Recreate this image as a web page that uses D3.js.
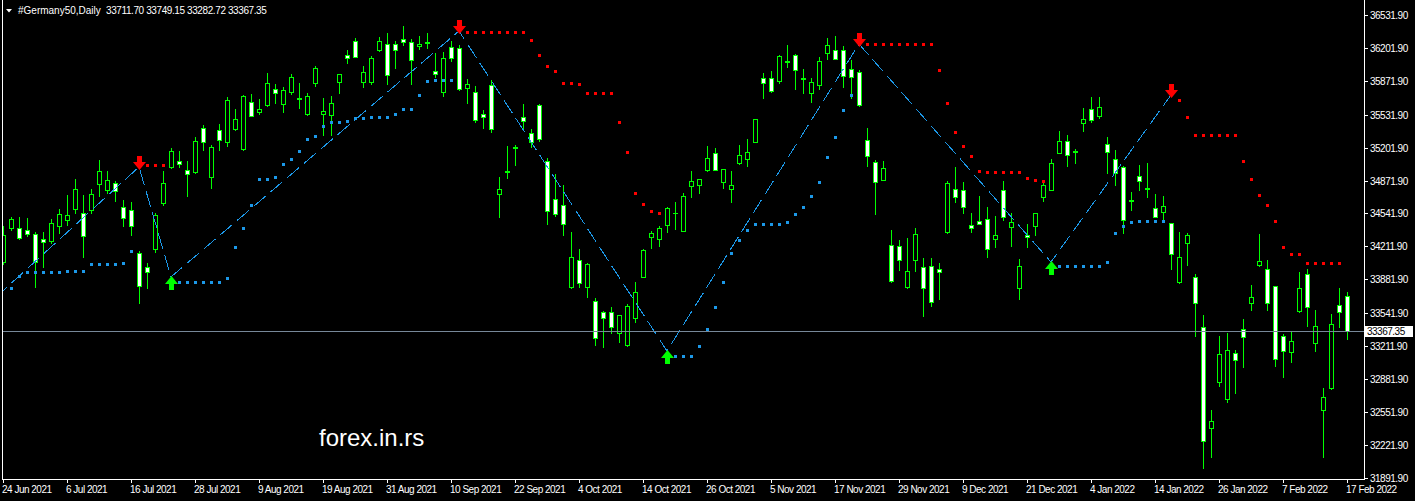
<!DOCTYPE html>
<html><head><meta charset="utf-8">
<script src="https://cdn.jsdelivr.net/npm/d3@7"></script>
<style>
html,body{margin:0;padding:0;background:#000;overflow:hidden;}
svg{display:block;}
text{font-family:"Liberation Sans",Arial,sans-serif;}
</style></head><body>
<svg id="c" width="1415" height="501"></svg>
<script>
// ---------- DATA ----------
const symbol = "#Germany50,Daily";
const lastOHLC = ["33711.70","33749.15","33282.72","33367.35"];
const lastPrice = 33367.35;

const dates = [
"2021-06-24","2021-06-25","2021-06-28","2021-06-29","2021-06-30",
"2021-07-01","2021-07-02","2021-07-05","2021-07-06","2021-07-07","2021-07-08","2021-07-09","2021-07-12","2021-07-13","2021-07-14","2021-07-15","2021-07-16","2021-07-19","2021-07-20","2021-07-21","2021-07-22","2021-07-23","2021-07-26","2021-07-27","2021-07-28","2021-07-29","2021-07-30",
"2021-08-02","2021-08-03","2021-08-04","2021-08-05","2021-08-06","2021-08-09","2021-08-10","2021-08-11","2021-08-12","2021-08-13","2021-08-16","2021-08-17","2021-08-18","2021-08-19","2021-08-20","2021-08-23","2021-08-24","2021-08-25","2021-08-26","2021-08-27","2021-08-30","2021-08-31",
"2021-09-01","2021-09-02","2021-09-03","2021-09-06","2021-09-07","2021-09-08","2021-09-09","2021-09-10","2021-09-13","2021-09-14","2021-09-15","2021-09-16","2021-09-17","2021-09-20","2021-09-21","2021-09-22","2021-09-23","2021-09-24","2021-09-27","2021-09-28","2021-09-29","2021-09-30",
"2021-10-01","2021-10-04","2021-10-05","2021-10-06","2021-10-07","2021-10-08","2021-10-11","2021-10-12","2021-10-13","2021-10-14","2021-10-15","2021-10-18","2021-10-19","2021-10-20","2021-10-21","2021-10-22","2021-10-25","2021-10-26","2021-10-27","2021-10-28","2021-10-29",
"2021-11-01","2021-11-02","2021-11-03","2021-11-04","2021-11-05","2021-11-08","2021-11-09","2021-11-10","2021-11-11","2021-11-12","2021-11-15","2021-11-16","2021-11-17","2021-11-18","2021-11-19","2021-11-22","2021-11-23","2021-11-24","2021-11-25","2021-11-26","2021-11-29","2021-11-30",
"2021-12-01","2021-12-02","2021-12-03","2021-12-06","2021-12-07","2021-12-08","2021-12-09","2021-12-10","2021-12-13","2021-12-14","2021-12-15","2021-12-16","2021-12-17","2021-12-20","2021-12-21","2021-12-22","2021-12-23","2021-12-27","2021-12-28","2021-12-29","2021-12-30",
"2022-01-03","2022-01-04","2022-01-05","2022-01-06","2022-01-07","2022-01-10","2022-01-11","2022-01-12","2022-01-13","2022-01-14","2022-01-17","2022-01-18","2022-01-19","2022-01-20","2022-01-21","2022-01-24","2022-01-25","2022-01-26","2022-01-27","2022-01-28","2022-01-31",
"2022-02-01","2022-02-02","2022-02-03","2022-02-04","2022-02-07","2022-02-08","2022-02-09","2022-02-10","2022-02-11","2022-02-14","2022-02-15","2022-02-16","2022-02-17"];

const opens = [
34058,34399,34393,34373,34333,34283,34269,34419,34476,34590,
34543,34573,34840,34780,34844,34604,34573,34142,34002,34182,
34650,35011,35068,34978,34961,35399,34910,35379,35258,35392,
35191,35656,35562,35629,35787,35642,35763,35685,35542,35853,
35542,35532,35863,36131,36268,35857,35863,36184,36238,36238,
36288,36258,36224,36253,35967,35763,36208,36198,35797,35757,
35536,35827,34734,34958,35203,35506,35346,35626,35065,34684,
34624,33801,34072,33807,33661,33551,33551,33340,33226,33490,
33908,34303,34289,34429,34543,34369,34814,34824,34981,35145,
34860,34784,35051,35085,35261,35897,35897,35873,36065,36128,
35890,35753,35833,36154,36178,36178,35987,35960,35278,35058,
34880,34222,34212,33807,34072,34002,34012,33982,34359,34784,
34774,34423,34463,34483,34283,34774,34403,33791,34323,34419,
34710,34780,35151,35265,35158,35452,35586,35522,35235,35085,
35011,34667,34914,34791,34594,34553,34443,33851,34249,33902,
33400,32387,32849,32678,33145,33380,33641,34022,33982,33811,
33310,33149,33561,33932,33240,32568,32789,33621,33711.70];
const highs = [
34416,34506,34509,34493,34359,34356,34483,34583,34727,34887,
34727,34784,35078,34968,34867,34677,34660,34165,34048,34546,
34968,35198,35165,35068,35309,35429,35228,35439,35710,35589,
35727,35740,35690,35953,35840,35813,35940,35850,35750,36021,
35700,35720,35945,36181,36298,36021,36121,36308,36348,36268,
36422,36288,36321,36348,36148,36161,36274,36231,35887,35820,
35579,35880,34904,35218,35225,35639,35389,35639,35098,34937,
34827,34356,34185,34042,33691,33567,33601,33523,33634,33854,
34182,34369,34416,34610,34657,34744,34968,34887,35218,35198,
34987,34968,35228,35288,35489,35947,35970,36134,36231,36141,
35990,35897,36108,36298,36321,36221,36081,35980,35402,35078,
35068,34376,34279,34296,34396,34095,34095,34045,34867,35011,
34857,34543,34717,34607,34516,34867,34546,34085,34436,34546,
34877,35088,35369,35329,35188,35599,35707,35707,35309,35178,
35014,34757,35028,35048,34737,34717,34449,34356,34343,33932,
33520,32571,33313,33340,33173,33483,33824,34336,34076,33814,
33333,33366,33955,33982,33574,32792,33534,33791,33749.15];
const lows = [
34035,34376,34283,34316,33807,34008,34243,34349,34426,34543,
34108,34549,34717,34744,34667,34416,34329,33647,33791,34158,
34627,34995,35011,34720,34944,35178,34800,35178,35218,35379,
35178,35519,35539,35619,35652,35559,35740,35599,35529,35823,
35326,35326,35753,36054,36106,35813,35837,36171,35837,36003,
36231,35843,36188,36198,35913,35720,36074,35780,35652,35462,
35396,35362,34509,34900,35028,35396,35211,35271,34436,34516,
34326,33794,33807,33707,33223,33206,33346,33256,33213,33456,
33905,34198,34215,34359,34383,34366,34710,34750,34971,34975,
34794,34660,35038,35021,35258,35703,35763,35847,36013,35793,
35753,35662,35790,36091,36090,35813,35697,35622,35021,34536,
34877,33858,33975,33797,33968,33516,33614,33687,34343,34660,
34549,34359,34436,34108,34208,34473,34218,33687,34208,34329,
34670,34777,35148,35021,35051,35372,35462,35502,34951,34824,
34349,34577,34777,34704,34503,34459,33988,33848,34028,33316,
31986,32102,32815,32654,32744,32999,33574,34019,33574,33015,
32905,33055,33558,33416,33166,32102,32786,33400,33282.72];
const closes = [
34325,34483,34293,34333,34058,34253,34443,34533,34523,34784,
34319,34734,34968,34874,34770,34499,34419,33817,33952,34526,
34844,35165,35038,34934,35268,35258,35208,35278,35680,35486,
35717,35522,35589,35850,35753,35777,35910,35695,35717,35997,
35566,35649,35940,36104,36108,35957,36098,36268,35927,36178,
36264,36078,36241,36263,35943,36098,36098,35787,35837,35476,
35512,35386,34784,34964,35211,35466,35261,35285,34563,34536,
34433,34102,33841,34032,33290,33490,33406,33520,33614,33751,
34175,34343,34393,34594,34549,34714,34864,34884,35095,34981,
34985,34827,35125,35155,35486,35853,35773,36121,36071,35983,
35896,35857,36071,36228,36094,35923,35913,35629,35115,34854,
34998,33861,34072,33962,34333,33791,33651,33958,34844,34704,
34604,34393,34439,34182,34323,34503,34453,34012,34303,34543,
34824,35045,35265,35125,35164,35486,35476,35606,35155,34944,
34476,34673,34864,34797,34509,34617,34135,34102,34323,33641,
32257,32458,33129,33170,33072,33300,33701,34062,33641,33079,
33163,33260,33791,33601,33410,32698,33430,33551,33367.35];

// trailing stop dots (blue = support in up-swing, red = resistance in down-swing)
const supportDots = [
null,33794,33912,33952,33952,33952,33952,33952,33962,33962,
33962,34032,34032,34032,34032,34042,34162,null,null,null,
null,null,33851,33851,33851,33851,33851,33851,33892,34202,
34396,34626,34884,34884,34907,35035,35085,35165,35285,35316,
35416,35456,35456,35466,35496,35496,35506,35506,35506,35536,
35586,35586,35727,35867,35877,35877,35877,null,null,null,
null,null,null,null,null,null,null,null,null,null,
null,null,null,null,null,null,null,null,null,null,
null,null,null,null,33109,33109,33109,33210,33380,33601,
33851,34142,34273,34373,34433,34433,34433,34433,34453,34533,
34604,34714,34854,35105,35306,35576,35727,null,null,null,
null,null,null,null,null,null,null,null,null,null,
null,null,null,null,null,null,null,null,null,null,
null,null,34012,34012,34012,34012,34012,34012,34052,34343,
34413,34453,34463,34463,34463,34463,null,null,null,null,
null,null,null,null,null,null,null,null,null,null,
null,null,null,null,null,null,null,null,null];
const resistanceDots = [
null,null,null,null,null,null,null,null,null,null,
null,null,null,null,null,null,null,null,35025,35025,
35025,null,null,null,null,null,null,null,null,null,
null,null,null,null,null,null,null,null,null,null,
null,null,null,null,null,null,null,null,null,null,
null,null,null,null,null,null,null,null,36358,36358,
36358,36358,36358,36358,36358,36358,36278,36128,36017,35967,
35847,35847,35837,35747,35747,35747,35747,35456,35155,34744,
34634,34563,34543,null,null,null,null,null,null,null,
null,null,null,null,null,null,null,null,null,null,
null,null,null,null,null,null,null,null,36238,36238,
36238,36238,36238,36238,36238,36238,36238,35977,35646,35356,
35215,35115,34965,34955,34955,34955,34955,34955,34894,34874,
34864,null,null,null,null,null,null,null,null,null,
null,null,null,null,null,null,null,35677,35506,35326,
35326,35326,35326,35326,35326,35065,34884,34724,34624,34463,
34202,34132,34132,34042,34042,34042,34042,34042,null];

// zigzag swing points (bar index, price)
const zigzagBars   = [-1, 17, 21, 57, 83, 107, 131, 146];
const zigzagPrices = [33694, 35008, 33905, 36371, 33163, 36241, 34055, 35730];

const yTickLabels = ["36531.90","36201.90","35871.90","35531.90","35201.90","34871.90","34541.90",
  "34211.90","33881.90","33541.90","33211.90","32881.90","32551.90","32221.90","31891.90"];
const xTickLabels = ["24 Jun 2021","6 Jul 2021","16 Jul 2021","28 Jul 2021","9 Aug 2021","19 Aug 2021",
  "31 Aug 2021","10 Sep 2021","22 Sep 2021","4 Oct 2021","14 Oct 2021","26 Oct 2021","5 Nov 2021",
  "17 Nov 2021","29 Nov 2021","9 Dec 2021","21 Dec 2021","4 Jan 2022","14 Jan 2022","26 Jan 2022",
  "7 Feb 2022","17 Feb 2022"];
const watermark = "forex.in.rs";

// ---------- CHART ----------
const W = 1415, H = 501;
const plotLeft = 2, plotRight = 1364, plotBottom = 479;
const svg = d3.select("#c");
svg.append("rect").attr("width",W).attr("height",H).attr("fill","#000");

const x = d3.scaleLinear().domain([0, dates.length - 1]).range([3, 1347]);
const y = d3.scaleLinear().domain([31891.9, 36531.9]).range([477.7, 15]);
const X = i => Math.round(x(i));
const Y = v => Math.round(y(v));

const bars = dates.map((d,i)=>({i, o:opens[i], h:highs[i], l:lows[i], c:closes[i]}));

svg.append("clipPath").attr("id","plotclip").append("rect")
  .attr("x",plotLeft+1).attr("y",0).attr("width",plotRight-plotLeft-1).attr("height",plotBottom);

const plot = svg.append("g").attr("clip-path","url(#plotclip)").attr("shape-rendering","crispEdges");
const LIME = "#00ff00";
const BLUE = "#1c98e8";

// candles
const cg = plot.append("g");
bars.forEach(b=>{
  const cx = X(b.i);
  const hy = Y(b.h), ly = Y(b.l);
  cg.append("rect").attr("x",cx).attr("y",hy).attr("width",1).attr("height",Math.max(1,ly-hy+1)).attr("fill",LIME);
  const top = Y(Math.max(b.o,b.c)), bot = Y(Math.min(b.o,b.c));
  if (bot - top < 1) {
    cg.append("rect").attr("x",cx-2).attr("y",top).attr("width",5).attr("height",1).attr("fill",LIME);
  } else {
    cg.append("rect").attr("x",cx-2).attr("y",top).attr("width",5).attr("height",bot-top+1).attr("fill",LIME);
    if (bot - top > 1)
      cg.append("rect").attr("x",cx-1).attr("y",top+1).attr("width",3).attr("height",bot-top-1)
        .attr("fill", b.c < b.o ? "#ffffff" : "#000000");
  }
});

// current price line
svg.append("line").attr("x1",plotLeft+1).attr("x2",plotRight).attr("y1",Y(lastPrice)+0.5).attr("y2",Y(lastPrice)+0.5)
  .attr("stroke","#778899").attr("stroke-width",1);

// zigzag dashed line
const zz = zigzagBars.map((b,k)=>[x(b), y(zigzagPrices[k])]);
plot.append("path").attr("d", d3.line()(zz)).attr("fill","none")
  .attr("stroke",BLUE).attr("stroke-width",1).attr("stroke-dasharray","16,6");

// dots
const dg = plot.append("g");
supportDots.forEach((v,i)=>{ if(v!==null) dg.append("rect").attr("x",X(i)-1).attr("y",Y(v)-1).attr("width",3).attr("height",3).attr("fill",BLUE); });
resistanceDots.forEach((v,i)=>{ if(v!==null) dg.append("rect").attr("x",X(i)-1).attr("y",Y(v)-1).attr("width",3).attr("height",3).attr("fill","#ff0000"); });

// swing arrows
const ag = svg.append("g");
zigzagBars.forEach((b,k)=>{
  if (b < 0) return;
  const prev = zigzagPrices[k-1], v = zigzagPrices[k];
  const cx = x(b) + 0.5;
  if (v > prev) { // peak -> red down arrow
    const t = Y(v) + 3;
    ag.append("path").attr("fill","#ff0000")
      .attr("d",`M${cx-2.5},${t-14} L${cx+2.5},${t-14} L${cx+2.5},${t-8} L${cx+6.5},${t-8} L${cx},${t} L${cx-6.5},${t-8} L${cx-2.5},${t-8} Z`);
  } else { // trough -> green up arrow
    const t = Y(v) - 1;
    ag.append("path").attr("fill",LIME)
      .attr("d",`M${cx-2.5},${t+14} L${cx+2.5},${t+14} L${cx+2.5},${t+8} L${cx+6.5},${t+8} L${cx},${t} L${cx-6.5},${t+8} L${cx-2.5},${t+8} Z`);
  }
});

// frame
const fg = svg.append("g").attr("shape-rendering","crispEdges");
fg.append("line").attr("x1",plotLeft+0.5).attr("x2",plotLeft+0.5).attr("y1",0).attr("y2",plotBottom+0.5).attr("stroke","#fff");
fg.append("line").attr("x1",plotRight+0.5).attr("x2",plotRight+0.5).attr("y1",0).attr("y2",plotBottom+0.5).attr("stroke","#fff");
fg.append("line").attr("x1",plotLeft).attr("x2",plotRight+1).attr("y1",plotBottom+0.5).attr("y2",plotBottom+0.5).attr("stroke","#fff");

// y axis
const axisFont = {"font-size":"10px","letter-spacing":"-0.5px","fill":"#ffffff"};
yTickLabels.forEach(lbl=>{
  const yy = Y(parseFloat(lbl));
  fg.append("line").attr("x1",plotRight+1).attr("x2",plotRight+4).attr("y1",yy+0.5).attr("y2",yy+0.5).attr("stroke","#fff");
  const t = svg.append("text").attr("x",plotRight+6).attr("y",yy+4).text(lbl);
  Object.entries(axisFont).forEach(([k,v])=>t.attr(k,v));
});
// price label
svg.append("rect").attr("x",plotRight+1).attr("y",Y(lastPrice)-5).attr("width",48).attr("height",11).attr("fill","#fff");
svg.append("text").attr("x",plotRight+3).attr("y",Y(lastPrice)+4).attr("font-size","10px").attr("letter-spacing","-0.5px")
  .attr("fill","#000").text(lastPrice.toFixed(2));

// x axis
const parseLbl = d3.timeParse("%d %b %Y"), fmt = d3.timeFormat("%Y-%m-%d");
xTickLabels.forEach(lbl=>{
  const idx = dates.indexOf(fmt(parseLbl(lbl)));
  if (idx < 0) return;
  const xx = X(idx);
  fg.append("line").attr("x1",xx+0.5).attr("x2",xx+0.5).attr("y1",plotBottom+1).attr("y2",plotBottom+4).attr("stroke","#fff");
  const t = svg.append("text").attr("x",xx-1).attr("y",493).text(lbl);
  Object.entries(axisFont).forEach(([k,v])=>t.attr(k,v));
});

// header
svg.append("path").attr("d","M6,9 L12,9 L9,12.5 Z").attr("fill","#fff");
svg.append("text").attr("x",18).attr("y",14).attr("font-size","10px").attr("fill","#fff").text(symbol);
svg.append("text").attr("x",106).attr("y",14).attr("font-size","10px").attr("letter-spacing","-0.4px").attr("fill","#fff")
  .text(lastOHLC.join(" "));

// watermark
svg.append("text").attr("x",319).attr("y",446).attr("font-size","24px").attr("fill","#fff").text(watermark);
</script>
</body></html>
